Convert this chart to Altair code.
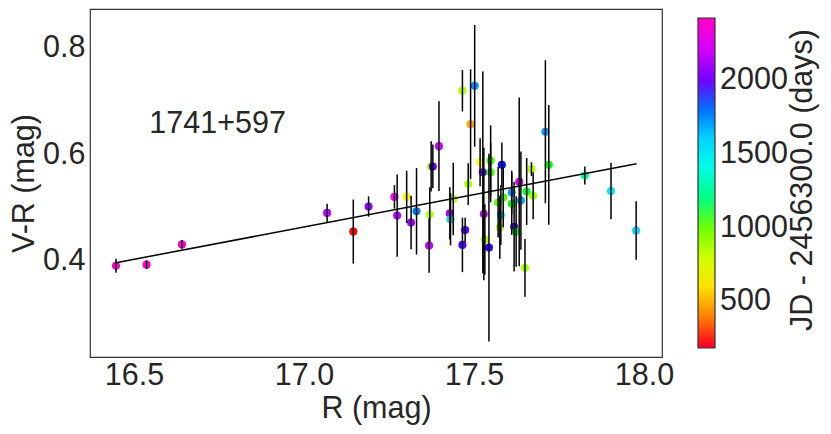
import altair as alt
import pandas as pd

# ---- data ----
R = [16.447, 16.537, 16.641, 17.068, 17.145, 17.190, 17.266, 17.302, 17.274, 17.315,
     17.331, 17.368, 17.370, 17.374, 17.379, 17.397, 17.429, 17.431, 17.439, 17.466,
     17.466, 17.474, 17.483, 17.490, 17.502, 17.518, 17.526, 17.529, 17.532, 17.544,
     17.549, 17.549, 17.571, 17.576, 17.579, 17.582, 17.586, 17.611, 17.611, 17.618,
     17.624, 17.633, 17.638, 17.655, 17.674, 17.650, 17.669, 17.710, 17.720, 17.826,
     17.903, 17.977]
VR = [0.391, 0.393, 0.431, 0.490, 0.455, 0.502, 0.520, 0.520, 0.485, 0.472,
      0.493, 0.429, 0.487, 0.577, 0.577, 0.615, 0.489, 0.478, 0.516, 0.719,
      0.430, 0.458, 0.544, 0.656, 0.728, 0.585, 0.566, 0.488, 0.440, 0.425,
      0.588, 0.566, 0.510, 0.463, 0.486, 0.580, 0.519, 0.528, 0.507, 0.464,
      0.455, 0.548, 0.513, 0.530, 0.522, 0.387, 0.572, 0.642, 0.580, 0.560,
      0.531, 0.457]
VR_ERR = [0.013, 0.008, 0.008, 0.017, 0.060, 0.019, 0.022, 0.049, 0.077, 0.050,
          0.081, 0.051, 0.051, 0.047, 0.041, 0.084, 0.049, 0.049, 0.068, 0.039,
          0.051, 0.023, 0.039, 0.103, 0.114, 0.045, 0.189, 0.124, 0.066, 0.176,
          0.066, 0.056, 0.066, 0.059, 0.056, 0.042, 0.056, 0.041, 0.058, 0.084,
          0.066, 0.158, 0.092, 0.063, 0.044, 0.054, 0.013, 0.134, 0.112, 0.017,
          0.053, 0.055]
JD = [2410, 2400, 2390, 2150, 250, 2060, 2310, 650, 2120, 2080,
      1780, 2150, 860, 860, 2000, 2170, 2120, 1600, 860, 870,
      1950, 1960, 880, 470, 1740, 680, 1980, 2150, 880, 1930,
      1050, 1050, 1020, 880, 1570, 1900, 1050, 1720, 1080, 1980,
      1100, 2220, 1700, 1100, 900, 900, 860, 1720, 1080, 1250,
      1550, 1590]

FIT_R = [16.447, 17.978]
FIT_VR = [0.3966, 0.582]

LABEL = ["1741+597"]
LABEL_R = [16.545]
LABEL_VR = [0.657]

CB_TITLE = "JD - 2456300.0 (days)"
CB_TICKS = [500, 1000, 1500, 2000]
CB_STOPS = [185, 252, 665, 1079, 1495, 1906, 2317, 2420]
CB_COLORS = ["#ff0029", "#ff0000", "#ffff00", "#00ff00", "#00ffff", "#0000ff", "#ff00ff", "#ff00bf"]

FONT = "Liberation Sans"
TXT = "#262626"
FS = 30.5

df = pd.DataFrame({"R": R, "VR": VR, "JD": JD})
df["lo"] = df["VR"] - pd.Series(VR_ERR)
df["hi"] = df["VR"] + pd.Series(VR_ERR)
fit = pd.DataFrame({"R": FIT_R, "VR": FIT_VR})
lab = pd.DataFrame({"t": LABEL, "R": LABEL_R, "VR": LABEL_VR})
cbt = pd.DataFrame({"t": [CB_TITLE]})

xs = alt.Scale(domain=[16.3706, 18.053], nice=False, zero=False)
ys = alt.Scale(domain=[0.220, 0.872], nice=False, zero=False)

xaxis = alt.Axis(values=[16.5, 17.0, 17.5, 18.0], format=".1f", title="R (mag)",
                 ticks=False, domain=False, grid=False, labelFlush=False,
                 labelFontSize=FS, titleFontSize=FS, labelPadding=3, titlePadding=3,
                 labelColor=TXT, titleColor=TXT, labelFont=FONT, titleFont=FONT,
                 titleFontWeight="normal")
yaxis = alt.Axis(values=[0.4, 0.6, 0.8], format=".1f", title="V-R (mag)",
                 ticks=False, domain=False, grid=False, labelFlush=False,
                 labelFontSize=FS, titleFontSize=FS, labelPadding=5, titlePadding=3,
                 labelColor=TXT, titleColor=TXT, labelFont=FONT, titleFont=FONT,
                 titleFontWeight="normal")

cscale = alt.Scale(domain=CB_STOPS, range=CB_COLORS, type="linear")
legend = alt.Legend(orient="none", legendX=608, legendY=9, direction="vertical",
                    gradientLength=330, gradientThickness=17, values=CB_TICKS,
                    format="d",
                    labelFontSize=FS, labelFont=FONT, labelColor=TXT, labelOffset=5,
                    title=None,
                    gradientStrokeColor="#333333", gradientStrokeWidth=1.2)

base = alt.Chart(df)
pts = base.mark_circle(size=66, opacity=1).encode(
    x=alt.X("R:Q", scale=xs, axis=xaxis),
    y=alt.Y("VR:Q", scale=ys, axis=yaxis),
    color=alt.Color("JD:Q", scale=cscale, legend=legend),
)
bars = base.mark_rule(color="black", strokeWidth=1.5).encode(
    x="R:Q", y="lo:Q", y2="hi:Q"
)
line = alt.Chart(fit).mark_line(color="black", strokeWidth=1.5).encode(
    x="R:Q", y="VR:Q"
)
text = alt.Chart(lab).mark_text(align="left", baseline="middle", fontSize=FS,
                                font=FONT, color=TXT).encode(
    x="R:Q", y="VR:Q", text="t:N"
)
cbtitle = alt.Chart(cbt).mark_text(align="center", baseline="middle", angle=270,
                                   fontSize=FS, font=FONT, color=TXT).encode(
    x=alt.value(713), y=alt.value(171), text="t:N"
)

chart = alt.layer(pts, bars, line, text, cbtitle).properties(
    width=572, height=348,
    autosize=alt.AutoSizeParams(type="none"),
    padding={"left": 82, "top": 1, "right": 161, "bottom": 69},
).configure_view(stroke="#333333", strokeWidth=1.2)

chart.save("out.html", embed_options={"renderer": "svg", "actions": False})
